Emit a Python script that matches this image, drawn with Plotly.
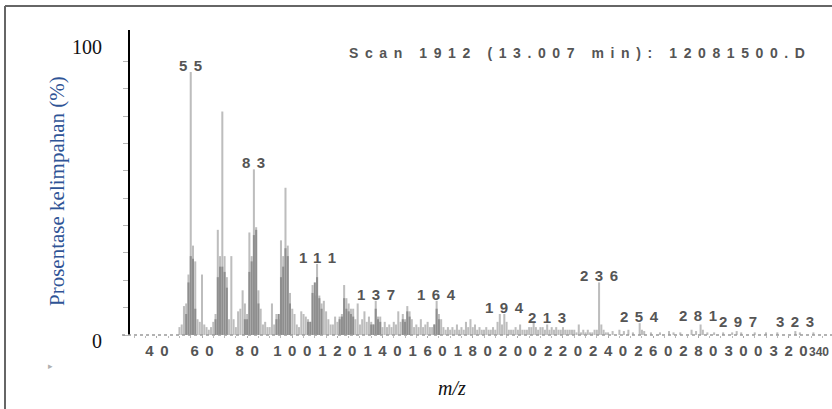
import plotly.graph_objects as go

# ---------------- data ----------------
mz = [50, 51, 52, 53, 54, 55, 56, 57, 58, 59, 60, 61, 62, 63, 64, 65, 66, 67, 68, 69,
      70, 71, 72, 73, 74, 75, 76, 77, 78, 79, 80, 81, 82, 83, 84, 85, 86, 87, 88, 89,
      90, 91, 92, 93, 94, 95, 96, 97, 98, 99, 100, 101, 102, 103, 104, 105, 106, 107, 108, 109,
      110, 111, 112, 113, 114, 115, 116, 117, 118, 119, 120, 121, 122, 123, 124, 125, 126, 127, 128, 129,
      130, 131, 132, 133, 134, 135, 136, 137, 138, 139, 140, 141, 142, 143, 144, 145, 146, 147, 148, 149,
      150, 151, 152, 153, 154, 155, 156, 157, 158, 159, 160, 161, 162, 163, 164, 165, 166, 167, 168, 169,
      170, 171, 172, 173, 174, 175, 176, 177, 178, 179, 180, 181, 182, 183, 184, 185, 186, 187, 188, 189,
      190, 191, 192, 193, 194, 195, 196, 197, 198, 199, 200, 201, 202, 203, 204, 205, 206, 207, 208, 209,
      210, 211, 212, 213, 214, 215, 216, 217, 218, 219, 220, 221, 222, 223, 224, 225, 226, 227, 228, 229,
      230, 231, 232, 233, 234, 235, 236, 237, 238, 239, 240, 242, 245, 247, 249, 251, 254, 255, 256, 259,
      263, 267, 269, 272, 277, 279, 281, 282, 284, 287, 291, 295, 297, 299, 305, 310, 315, 323, 325, 331]
abundance = [3, 4, 11, 12, 23, 100, 34, 28, 6, 5, 23, 4, 3, 2, 3, 5, 8, 40, 30, 85,
             30, 22, 6, 30, 6, 3, 9, 10, 17, 12, 8, 39, 30, 63, 41, 17, 10, 4, 5, 3,
             3, 12, 4, 8, 6, 36, 30, 56, 34, 16, 10, 8, 4, 3, 9, 8, 7, 6, 5, 19,
             15, 27, 15, 12, 13, 9, 6, 4, 4, 7, 5, 7, 8, 19, 14, 12, 10, 10, 6, 12,
             4, 6, 9, 5, 7, 5, 4, 13, 7, 7, 3, 5, 3, 4, 3, 5, 4, 9, 5, 8,
             6, 11, 9, 6, 3, 4, 3, 6, 3, 4, 5, 3, 3, 4, 13, 8, 6, 3, 2, 3,
             2, 3, 2, 4, 2, 3, 2, 5, 3, 6, 3, 4, 2, 3, 2, 2, 3, 2, 2, 3,
             2, 5, 8, 4, 8, 5, 2, 2, 2, 3, 2, 4, 2, 2, 2, 3, 3, 5, 3, 2,
             3, 3, 2, 4, 2, 3, 2, 3, 2, 2, 3, 2, 2, 2, 2, 2, 1, 4, 1, 2,
             1, 2, 1, 1, 2, 2, 20, 4, 2, 1, 1, 1.5, 2, 1.5, 2, 1, 4.5, 2, 1.5, 1,
             1, 1.5, 1, 1, 2, 1.5, 4, 2, 1, 1, 1, 1, 1.5, 1, 1, 1, 1, 1.5, 1, 1]

dense_mz = [53, 54, 55, 56, 57, 66, 67, 68, 69, 70, 71, 79, 80, 81, 82, 83, 84, 85,
            93, 94, 95, 96, 97, 98, 99, 107, 108, 109, 110, 111, 112, 113,
            121, 122, 123, 124, 125, 126, 127, 135, 136, 137, 138, 139,
            149, 150, 151, 152, 163, 164, 165]
dense_abundance = [8, 20, 30, 29, 10, 6, 22, 26, 26, 24, 18, 6, 6, 24, 28, 38, 40, 12,
                   6, 8, 22, 26, 33, 30, 12, 5, 5, 16, 20, 22, 14, 10,
                   6, 7, 14, 10, 9, 8, 7, 4, 4, 10, 6, 5,
                   6, 5, 9, 7, 4, 10, 6]

peak_labels = [55, 83, 111, 137, 164, 194, 213, 236, 254, 281, 297, 323]
x_ticks = [40, 60, 80, 100, 120, 140, 160, 180, 200, 220, 240, 260, 280, 300, 320, 340]
y_ticks = [0, 10.4, 20.8, 31.2, 41.6, 52, 62.4, 72.8, 83.2, 93.6, 104]

header = "Scan 1912 (13.007 min): 12081500.D"
y_title = "Prosentase kelimpahan (%)"
x_title = "m/z"

# ---------------- layout geometry ----------------
W, H = 832, 409
ML, MR, MT, MB = 130, 0, 30, 74
PW, PH = W - ML - MR, H - MT - MB
XR = [28.08, 339.25]
YR = [0, 116]


def px(xp):
    return (xp - ML) / PW


def py(yp):
    return (H - MB - yp) / PH


SPEC_FONT = "Liberation Sans, Arial, sans-serif"
SERIF = "Liberation Serif, Times New Roman, serif"
SPEC_COLOR = "#555555"


def spaced(t, ls):
    # letter-spacing between glyphs only (no trailing gap after the last glyph)
    return f'<span style="letter-spacing:{ls}px;font-weight:bold">{t[:-1]}</span>' \
           f'<span style="font-weight:bold">{t[-1]}</span>'


fig = go.Figure()
fig.add_trace(go.Bar(x=mz, y=abundance, width=0.9,
                     marker=dict(color="#bdbdbd", line=dict(width=0)),
                     hoverinfo="skip"))
fig.add_trace(go.Bar(x=dense_mz, y=dense_abundance, width=0.9,
                     marker=dict(color="#8e8e8e", line=dict(width=0)),
                     hoverinfo="skip"))

label_xshift = {281: -3, 297: 1}
label_yshift = {281: 2, 297: 3, 323: 3}
lookup = dict(zip(mz, abundance))
annotations = []
for m in peak_labels:
    annotations.append(dict(x=m, y=lookup.get(m, 1), xref="x", yref="y",
                            text=spaced(str(m), 6.5), showarrow=False,
                            yanchor="bottom", xanchor="center",
                            xshift=label_xshift.get(m, 0), yshift=-4 + label_yshift.get(m, 0),
                            font=dict(family=SPEC_FONT, size=15, color=SPEC_COLOR)))

# tick labels beyond the right end of the axis: squeezed in against the right edge
shown_ticks = [v for v in x_ticks if XR[0] <= v <= XR[1]]
for v in x_ticks:
    if v not in shown_ticks:
        annotations.append(dict(x=1, y=0, xref="paper", yref="paper",
                                text=f"<b>{v}</b>", showarrow=False,
                                xanchor="right", yanchor="top", xshift=-1, yshift=-8,
                                font=dict(family=SPEC_FONT, size=12, color=SPEC_COLOR)))

annotations += [
    dict(x=px(577), y=py(53), xref="paper", yref="paper", text=spaced(header, 6.6),
         showarrow=False, xanchor="center", yanchor="middle",
         font=dict(family=SPEC_FONT, size=14, color=SPEC_COLOR)),
    dict(x=px(87), y=py(47), xref="paper", yref="paper", text="100", showarrow=False,
         xanchor="center", yanchor="middle", font=dict(family=SERIF, size=20, color="#111")),
    dict(x=px(97), y=py(341), xref="paper", yref="paper", text="0", showarrow=False,
         xanchor="center", yanchor="middle", font=dict(family=SERIF, size=20, color="#111")),
    dict(x=px(452), y=py(388), xref="paper", yref="paper", text=f"<i>{x_title}</i>",
         showarrow=False, xanchor="center", yanchor="middle",
         font=dict(family=SERIF, size=20, color="#111")),
    dict(x=px(57), y=py(191), xref="paper", yref="paper", text=y_title, textangle=-90,
         showarrow=False, xanchor="center", yanchor="middle",
         font=dict(family=SERIF, size=21, color="#2f5496")),
    dict(x=px(50), y=py(366), xref="paper", yref="paper", text="▸", showarrow=False,
         xanchor="center", yanchor="middle", font=dict(family=SPEC_FONT, size=9, color="#b0b0b0")),
]

shapes = [
    dict(type="line", xref="paper", yref="paper", x0=px(5), x1=px(832), y0=py(6), y1=py(6),
         line=dict(color="#666", width=2)),
    dict(type="line", xref="paper", yref="paper", x0=px(5), x1=px(5), y0=py(6), y1=py(409),
         line=dict(color="#666", width=2)),
    dict(type="line", xref="paper", yref="paper", x0=px(122), x1=px(832), y0=0, y1=0,
         line=dict(color="#9a9a9a", width=1.5, dash="dot")),
]

fig.update_layout(
    width=W, height=H, margin=dict(l=ML, r=MR, t=MT, b=MB, pad=0, autoexpand=False),
    paper_bgcolor="white", plot_bgcolor="white", showlegend=False, barmode="overlay",
    annotations=annotations, shapes=shapes,
    xaxis=dict(range=XR, showgrid=False, zeroline=False, showline=False,
               tickmode="array", tickvals=shown_ticks,
               ticktext=[spaced(str(v), 6.5) for v in shown_ticks],
               ticks="outside", ticklen=2, tickcolor="#aaa", tickangle=0,
               minor=dict(dtick=5, ticks="outside", ticklen=2, tickcolor="#bbb"),
               tickfont=dict(family=SPEC_FONT, size=15, color=SPEC_COLOR)),
    yaxis=dict(range=YR, showgrid=False, zeroline=False, showline=True,
               linecolor="#000", linewidth=2, tickmode="array", tickvals=y_ticks,
               ticks="outside", ticklen=5, tickcolor="#b5b5b5", showticklabels=False),
)

fig.write_html("out.html")
